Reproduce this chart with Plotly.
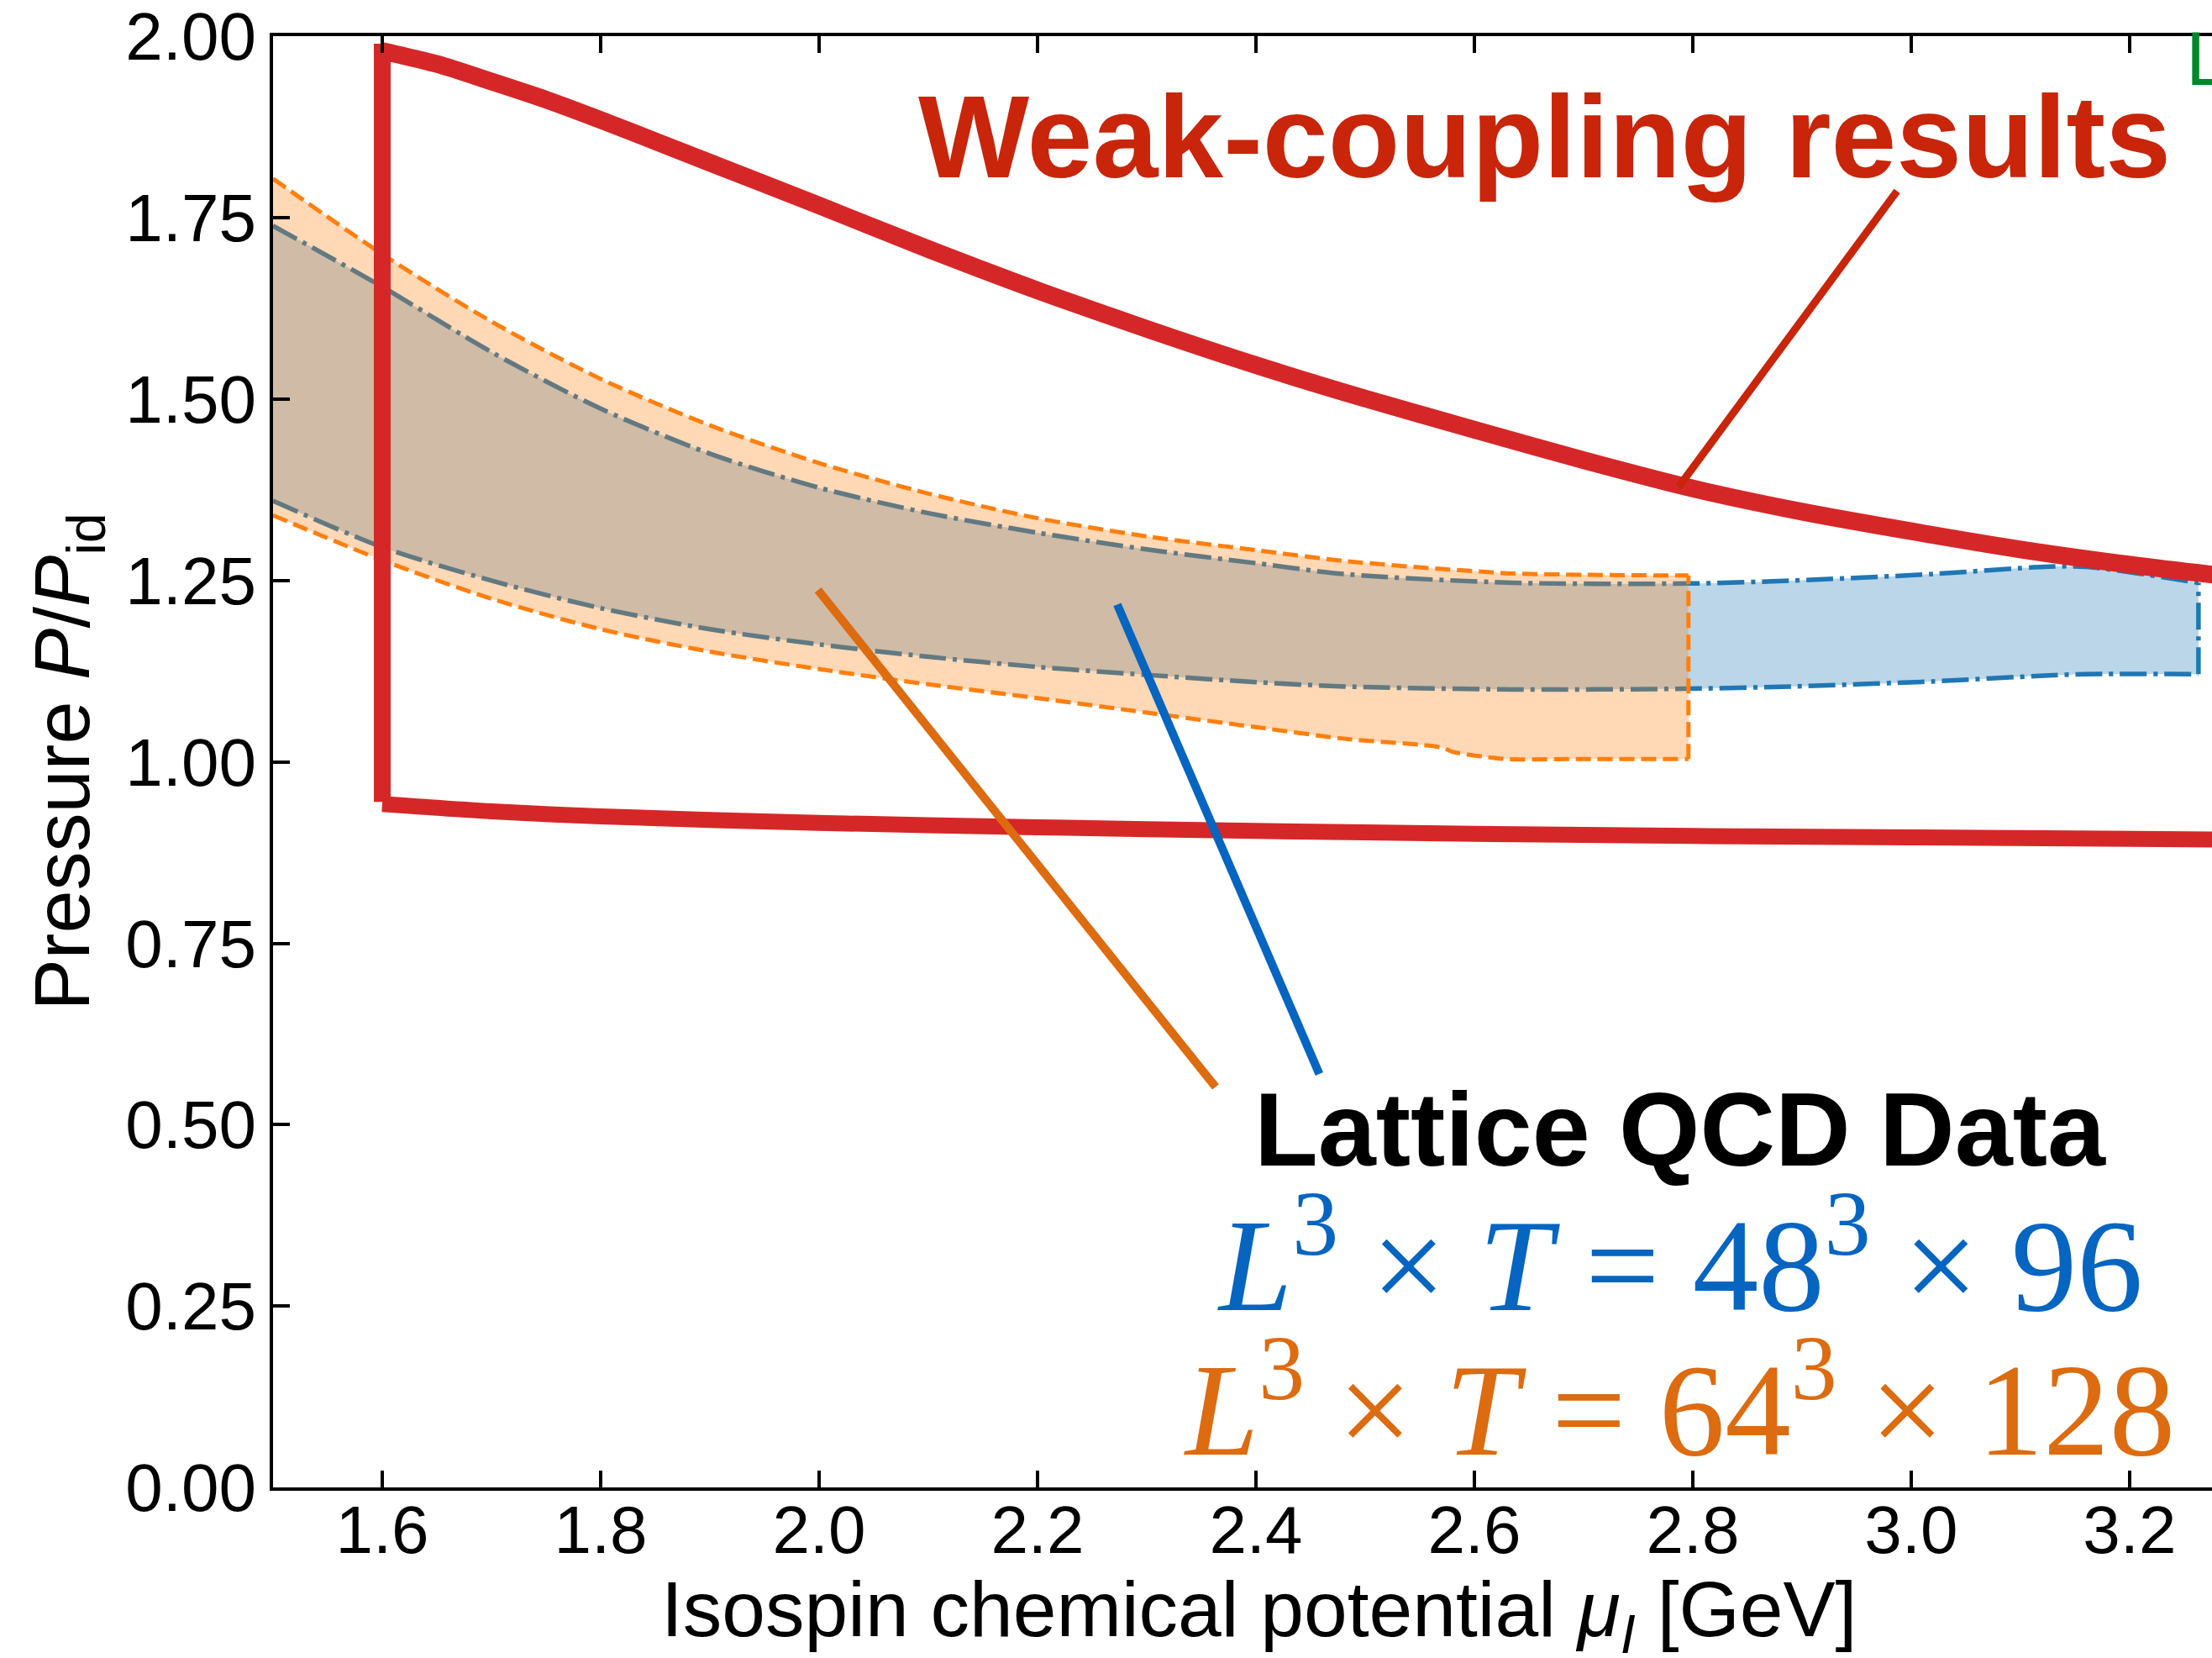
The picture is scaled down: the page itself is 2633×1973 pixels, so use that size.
import plotly.graph_objects as go

# ---------------- data ----------------
# Weak-coupling results (red)
wc_edge_x = [1.6, 1.6]
wc_edge_y = [0.945, 1.99]
wc_upper_x = [1.6, 1.65, 1.7, 1.75, 1.8, 1.9, 2.0, 2.1, 2.2, 2.3, 2.4, 2.5, 2.6, 2.7, 2.8, 2.9, 3.0, 3.1, 3.2, 3.3]
wc_upper_y = [1.980, 1.962, 1.938, 1.913, 1.885, 1.826, 1.767, 1.707, 1.650, 1.597, 1.547, 1.501, 1.458,
              1.416, 1.377, 1.345, 1.318, 1.293, 1.272, 1.254]
wc_lower_x = [1.6, 1.7, 1.8, 2.0, 2.2, 2.4, 2.6, 2.8, 3.0, 3.3]
wc_lower_y = [0.942, 0.932, 0.925, 0.916, 0.910, 0.905, 0.901, 0.898, 0.896, 0.893]

# Lattice 48^3 x 96 (blue band)
l48_x = [1.5, 1.6, 1.7, 1.8, 1.9, 2.0, 2.1, 2.2, 2.3, 2.4, 2.481, 2.635, 2.796, 2.891, 3.019, 3.122, 3.16, 3.263]
l48_hi = [1.739, 1.655, 1.565, 1.487, 1.425, 1.378, 1.343, 1.316, 1.293, 1.274, 1.259, 1.247, 1.246,
          1.250, 1.259, 1.269, 1.269, 1.247]
l48_lo = [1.360, 1.296, 1.250, 1.212, 1.183, 1.162, 1.145, 1.131, 1.120, 1.110, 1.104, 1.100, 1.101,
          1.104, 1.111, 1.119, 1.121, 1.121]

# Lattice 64^3 x 128 (orange band)
l64_x = [1.5, 1.6, 1.7, 1.8, 1.9, 2.0, 2.1, 2.2, 2.3, 2.4, 2.481, 2.57, 2.58, 2.61, 2.63, 2.7, 2.796]
l64_hi = [1.804, 1.700, 1.607, 1.528, 1.464, 1.412, 1.370, 1.336, 1.311, 1.292, 1.277, 1.266, 1.265,
          1.262, 1.260, 1.258, 1.257]
l64_lo = [1.340, 1.278, 1.225, 1.183, 1.152, 1.128, 1.107, 1.088, 1.068, 1.048, 1.032, 1.020, 1.014,
          1.007, 1.004, 1.004, 1.004]

# pointer lines: (x0, y0, x1, y1)
ptr_red = [2.787, 1.379, 2.987, 1.787]
ptr_orange = [1.999, 1.237, 2.363, 0.552]
ptr_blue = [2.273, 1.217, 2.458, 0.570]

x_ticks = [1.6, 1.8, 2.0, 2.2, 2.4, 2.6, 2.8, 3.0, 3.2]
y_ticks = [0.0, 0.25, 0.5, 0.75, 1.0, 1.25, 1.5, 1.75, 2.0]

# ---------------- figure ----------------
fig = go.Figure()

BLUE_DASH = "32px,8px,5px,8px"
ORANGE_DASH = "18px,8px"


def band(xs, lo, hi, color, fillcolor, width, dash):
    fig.add_trace(go.Scatter(x=xs, y=lo, mode="lines",
                             line=dict(color=color, width=width, dash=dash, shape="spline", smoothing=0.8),
                             showlegend=False, hoverinfo="skip"))
    fig.add_trace(go.Scatter(x=xs, y=hi, mode="lines", fill="tonexty", fillcolor=fillcolor,
                             line=dict(color=color, width=width, dash=dash, shape="spline", smoothing=0.8),
                             showlegend=False, hoverinfo="skip"))
    fig.add_trace(go.Scatter(x=[xs[-1], xs[-1]], y=[lo[-1], hi[-1]], mode="lines",
                             line=dict(color=color, width=width, dash=dash),
                             showlegend=False, hoverinfo="skip"))


band(l48_x, l48_lo, l48_hi, "#1f77b4", "rgba(31,119,180,0.3)", 5.5, BLUE_DASH)
band(l64_x, l64_lo, l64_hi, "#ff7f0e", "rgba(255,127,14,0.3)", 5, ORANGE_DASH)

# weak coupling
RED = "#d62728"
fig.add_trace(go.Scatter(x=wc_edge_x, y=wc_edge_y, mode="lines",
                         line=dict(color=RED, width=20), showlegend=False, hoverinfo="skip"))
fig.add_trace(go.Scatter(x=wc_upper_x, y=wc_upper_y, mode="lines",
                         line=dict(color=RED, width=21, shape="spline", smoothing=0.8),
                         showlegend=False, hoverinfo="skip"))
fig.add_trace(go.Scatter(x=wc_lower_x, y=wc_lower_y, mode="lines",
                         line=dict(color=RED, width=19, shape="spline", smoothing=0.8),
                         showlegend=False, hoverinfo="skip"))

for p, col, w in [(ptr_red, "#c8250a", 9), (ptr_orange, "#dd6b10", 10), (ptr_blue, "#0565c0", 10)]:
    fig.add_shape(type="line", xref="x", yref="y", x0=p[0], y0=p[1], x1=p[2], y1=p[3],
                  line=dict(color=col, width=w), layer="above")

sans = "Liberation Sans, Arial, sans-serif"
serif = "Liberation Serif, Times New Roman, serif"
sp = "\u2005"

fig.add_annotation(x=2.089, y=1.862, xref="x", yref="y", xanchor="left", yanchor="middle",
                   text="<b>Weak-coupling results</b>", showarrow=False,
                   font=dict(family=sans, size=140, color="#c8250a"))
fig.add_annotation(x=2.397, y=0.493, xref="x", yref="y", xanchor="left", yanchor="middle",
                   text="<b>Lattice QCD Data</b>", showarrow=False,
                   font=dict(family=sans, size=124, color="black"))
fig.add_annotation(x=2.363, y=0.32, xref="x", yref="y", xanchor="left", yanchor="middle",
                   text=f"<i>L</i><sup>3</sup>{sp}×{sp}<i>T</i>{sp}={sp}48<sup>3</sup>{sp}×{sp}96",
                   showarrow=False, font=dict(family=serif, size=157, color="#0565c0"))
fig.add_annotation(x=2.332, y=0.12, xref="x", yref="y", xanchor="left", yanchor="middle",
                   text=f"<i>L</i><sup>3</sup>{sp}×{sp}<i>T</i>{sp}={sp}64<sup>3</sup>{sp}×{sp}128",
                   showarrow=False, font=dict(family=serif, size=157, color="#dd6b10"))
fig.add_annotation(x=3.25, y=1.0145, xref="x", yref="paper", xanchor="left", yanchor="top",
                   text="L", showarrow=False,
                   font=dict(family=sans, size=90, color="#00882b"))
# x-axis title (the original axis extends past the cropped right edge, so centre it there)
fig.add_annotation(x=0.5083, y=-0.088, xref="paper", yref="paper", xanchor="center", yanchor="middle",
                   text="Isospin chemical potential <i>μ</i><sub><i>I</i></sub> [GeV]", showarrow=False,
                   font=dict(family=sans, size=93, color="black"))

fig.update_layout(
    width=2633, height=1973,
    margin=dict(l=325, r=0, t=43, b=203, pad=0),
    paper_bgcolor="white", plot_bgcolor="white",
    font=dict(family=sans, size=80, color="black"),
)
fig.update_xaxes(range=[1.5, 3.2754], tickvals=x_ticks, ticktext=[f"{v:.1f}" for v in x_ticks],
                 ticks="inside", ticklen=20, tickwidth=4, tickcolor="black", automargin=False,
                 showline=True, linewidth=4, linecolor="black", mirror="ticks",
                 showgrid=False, zeroline=False, tickfont=dict(size=80), ticklabelstandoff=-22)
fig.update_yaxes(range=[0, 2.0005], tickvals=y_ticks, ticktext=[f"{v:.2f}" for v in y_ticks],
                 ticks="inside", ticklen=20, tickwidth=4, tickcolor="black", automargin=False,
                 showline=True, linewidth=4, linecolor="black", mirror=False,
                 ticklabeloverflow="allow",
                 showgrid=False, zeroline=False, tickfont=dict(size=80),
                 title=dict(text="Pressure <i>P</i>/<i>P</i><sub>id</sub>",
                            font=dict(size=92), standoff=13))

fig.write_html("out.html")
